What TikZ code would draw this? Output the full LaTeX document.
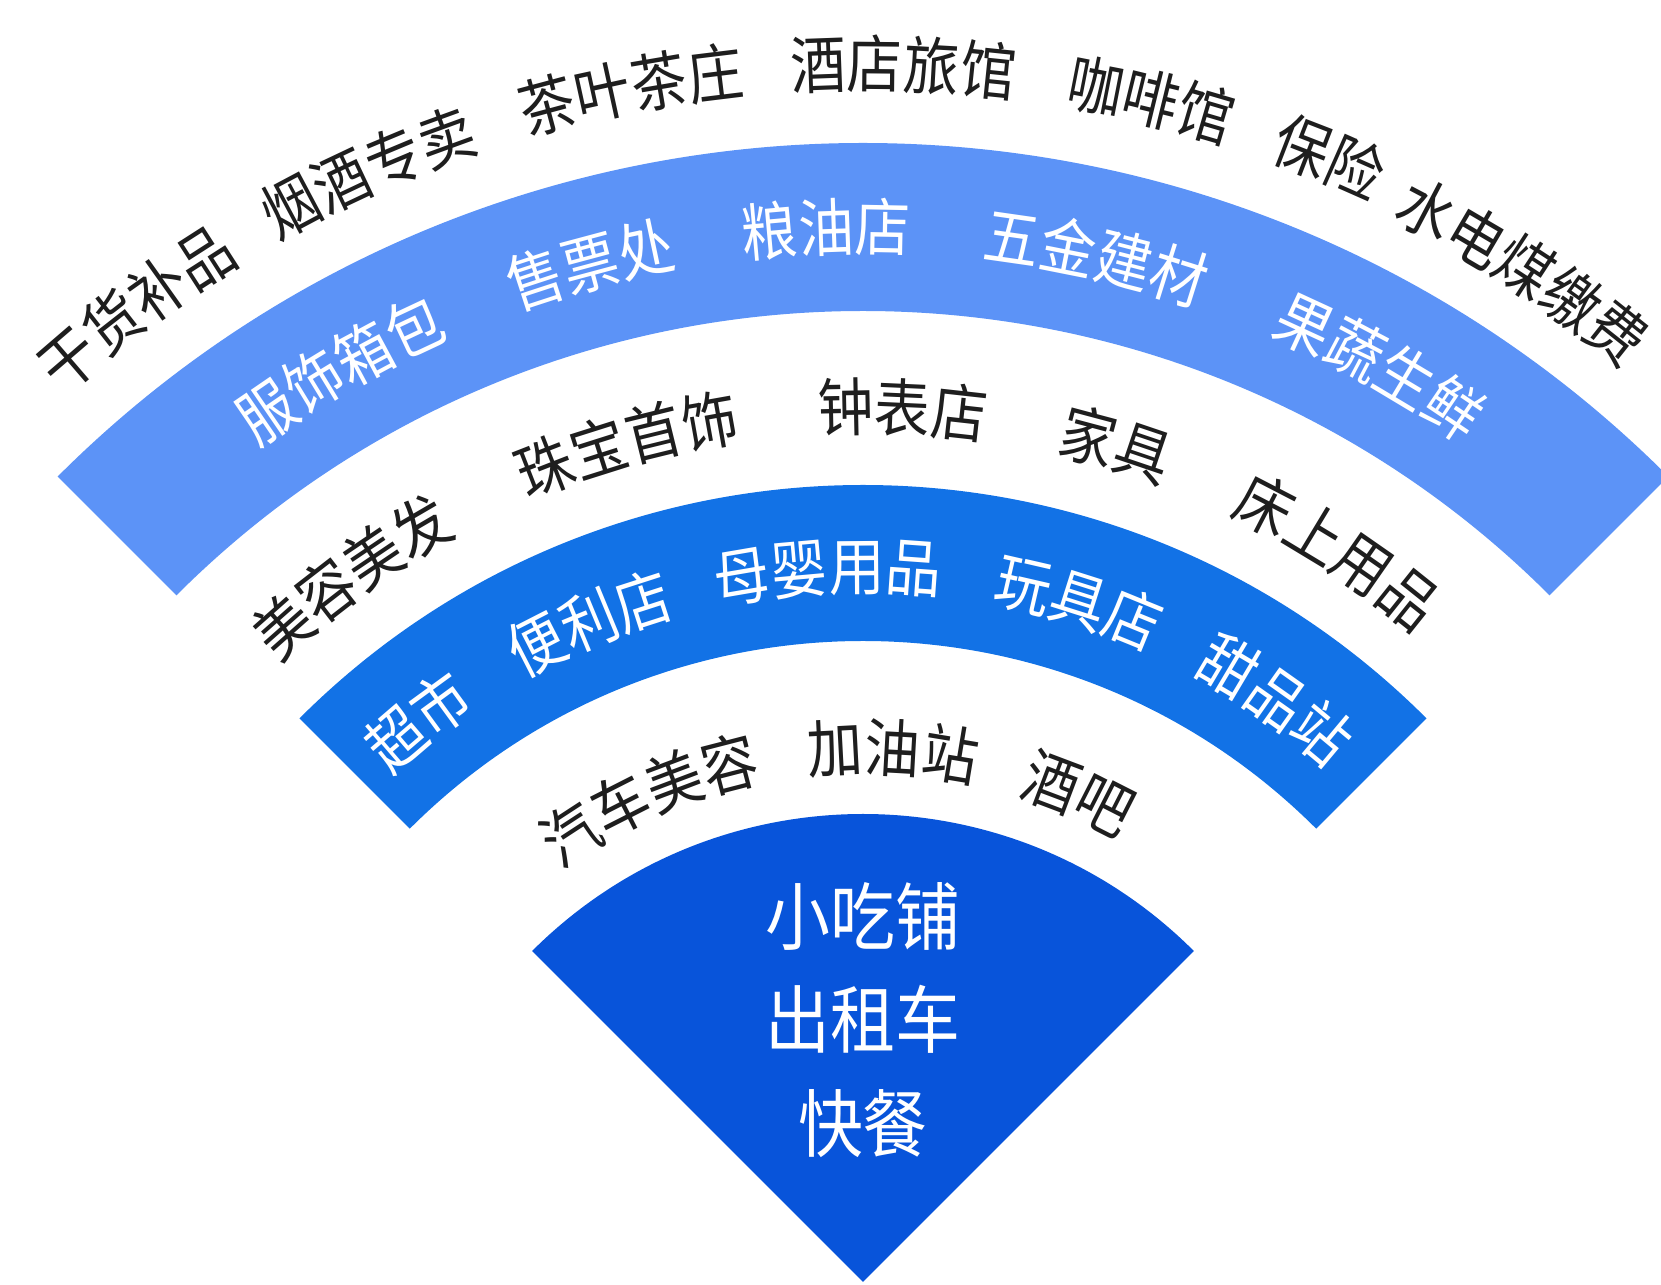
\documentclass[tikz,border=0pt]{standalone}
\usepackage{fontspec}
\newfontfamily\cjk[FakeStretch=0.88]{Noto Sans CJK SC}
\definecolor{wfblue}{RGB}{92,147,247}
\definecolor{wfmid}{RGB}{18,114,230}
\definecolor{wfdeep}{RGB}{8,84,218}
\definecolor{wfink}{RGB}{30,30,30}
\usetikzlibrary{decorations.text}
\newcommand{\ringface}{\cjk\fontsize{36pt}{40pt}\selectfont}
\tikzset{
  ringword/.style={decorate, decoration={text along path, text align=center,
                   text={|\ringface\color{wfink}|#1}}},
  bandword/.style={decorate, decoration={text along path, text align=center,
                   text={|\ringface\color{white}|#1}}},
  corenote/.style={align=center, text=white, inner sep=0pt,
                   font=\cjk\fontsize{42pt}{59pt}\selectfont},
}

\begin{document}
\begin{tikzpicture}[x=0.02cm, y=0.02cm]
\useasboundingbox (-863,-3) rectangle (798,1282);

% --- bands ---
\fill[wfblue] (45:971) arc[start angle=45, end angle=135, radius=971]
      -- (135:1139) arc[start angle=135, end angle=45, radius=1139] -- cycle;
\fill[wfmid] (45:641) arc[start angle=45, end angle=135, radius=641]
      -- (135:797) arc[start angle=135, end angle=45, radius=797] -- cycle;
\fill[wfdeep] (0,0) -- (45:468) arc[start angle=45, end angle=135, radius=468] -- cycle;

% --- core ---
\node[corenote] (core) at (0,262) {小吃铺\\出租车\\快餐};

% --- outer row ---
\path[ringword=干货补品] (126.7+20:1194) arc[start angle=126.7+20, end angle=126.7-20, radius=1194];
\path[ringword=烟酒专卖] (114+20:1194) arc[start angle=114+20, end angle=114-20, radius=1194];
\path[ringword=茶叶茶庄] (101+20:1194) arc[start angle=101+20, end angle=101-20, radius=1194];
\path[ringword=酒店旅馆] (88.1+20:1194) arc[start angle=88.1+20, end angle=88.1-20, radius=1194];
\path[ringword=咖啡馆] (76.3+20:1194) arc[start angle=76.3+20, end angle=76.3-20, radius=1194];
\path[ringword=保险] (67.5+20:1194) arc[start angle=67.5+20, end angle=67.5-20, radius=1194];
\path[ringword=水电煤缴费] (56.9+20:1188) arc[start angle=56.9+20, end angle=56.9-20, radius=1188];

% --- light band ---
\path[bandword=服饰箱包] (119.8+20:1031) arc[start angle=119.8+20, end angle=119.8-20, radius=1031];
\path[bandword=售票处] (105+20:1031) arc[start angle=105+20, end angle=105-20, radius=1031];
\path[bandword=粮油店] (92+20:1031) arc[start angle=92+20, end angle=92-20, radius=1031];
\path[bandword=五金建材] (77.2+20:1031) arc[start angle=77.2+20, end angle=77.2-20, radius=1031];
\path[bandword=果蔬生鲜] (60.6+20:1031) arc[start angle=60.6+20, end angle=60.6-20, radius=1031];

% --- middle row ---
\path[ringword=美容美发] (125.9+20:851) arc[start angle=125.9+20, end angle=125.9-20, radius=851];
\path[ringword=珠宝首饰] (105.7+20:851) arc[start angle=105.7+20, end angle=105.7-20, radius=851];
\path[ringword=钟表店] (87.4+20:851) arc[start angle=87.4+20, end angle=87.4-20, radius=851];
\path[ringword=家具] (73.2+20:851) arc[start angle=73.2+20, end angle=73.2-20, radius=851];
\path[ringword=床上用品] (57+20:851) arc[start angle=57+20, end angle=57-20, radius=851];

% --- middle band ---
\path[bandword=超市] (128.4+22:692) arc[start angle=128.4+22, end angle=128.4-22, radius=692];
\path[bandword=便利店] (112.5+22:692) arc[start angle=112.5+22, end angle=112.5-22, radius=692];
\path[bandword=母婴用品] (92.8+22:692) arc[start angle=92.8+22, end angle=92.8-22, radius=692];
\path[bandword=玩具店] (72.4+22:692) arc[start angle=72.4+22, end angle=72.4-22, radius=692];
\path[bandword=甜品站] (54.7+22:692) arc[start angle=54.7+22, end angle=54.7-22, radius=692];

% --- inner row ---
\path[ringword=汽车美容] (113.8+25:511) arc[start angle=113.8+25, end angle=113.8-25, radius=511];
\path[ringword=加油站] (86.8+25:511) arc[start angle=86.8+25, end angle=86.8-25, radius=511];
\path[ringword=酒吧] (66.2+25:511) arc[start angle=66.2+25, end angle=66.2-25, radius=511];

\end{tikzpicture}
\end{document}
